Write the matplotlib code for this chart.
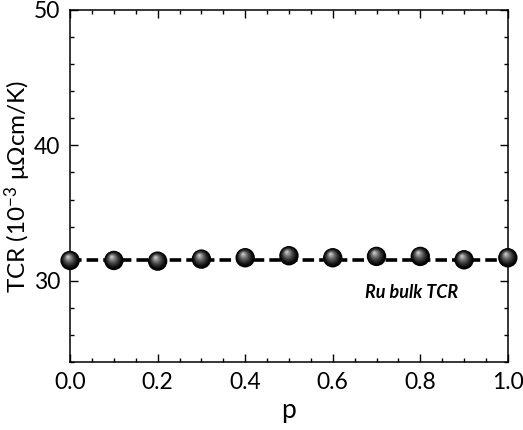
import matplotlib
matplotlib.use("Agg")
import matplotlib.pyplot as plt
from matplotlib.ticker import MultipleLocator, FixedLocator
import matplotlib.transforms as mtransforms
import numpy as np

p_values = [0.0, 0.1, 0.2, 0.3, 0.4, 0.5, 0.6, 0.7, 0.8, 0.9, 1.0]
tcr_values = [31.5, 31.5, 31.45, 31.6, 31.7, 31.85, 31.7, 31.8, 31.8, 31.55, 31.7]
bulk_x = [0.0, 1.0]
bulk_tcr = [31.5, 31.5]
x_ticks = [0.0, 0.2, 0.4, 0.6, 0.8, 1.0]
y_ticks = [30, 40, 50]

plt.rcParams['font.family'] = ['Lato', 'DejaVu Sans']
plt.rcParams['mathtext.fontset'] = 'custom'
plt.rcParams['mathtext.rm'] = 'Lato'
plt.rcParams['mathtext.it'] = 'Lato:italic'
plt.rcParams['mathtext.bf'] = 'Lato:bold'

fig = plt.figure(figsize=(5.23, 4.30), dpi=100)
ax = fig.add_axes([0.134, 0.158, 0.837, 0.819])

ax.plot(bulk_x, bulk_tcr, color='black', lw=2.6, dashes=(3.2, 1.4), zorder=2)

# shaded sphere markers
n_layers = 12
base_s = 195
for i in range(n_layers):
    f = i / (n_layers - 1)
    size = base_s * (1 - 0.9 * f) ** 2
    shade = 0.0 + 0.78 * f ** 1.5
    dx, dy = -1.5 * f, 2.6 * f
    tr = mtransforms.offset_copy(ax.transData, fig=fig, x=dx, y=dy, units='points')
    ax.scatter(p_values, tcr_values, s=size, color=str(shade), edgecolors='none',
               transform=tr, zorder=3 + i, clip_on=False)

ax.set_xlim(0.0, 1.0)
ax.set_ylim(24, 50)
ax.xaxis.set_major_locator(FixedLocator(x_ticks))
ax.xaxis.set_minor_locator(MultipleLocator(0.05))
ax.yaxis.set_major_locator(FixedLocator(y_ticks))
ax.yaxis.set_minor_locator(MultipleLocator(2))
ax.set_xticklabels([f"{v:.1f}" for v in x_ticks])

ax.tick_params(which='both', direction='in', top=True, right=True, labelsize=16.5, width=1.0)
ax.tick_params(which='major', length=6, pad=7)
ax.tick_params(which='minor', length=3)
for s in ax.spines.values():
    s.set_linewidth(1.1)

ax.set_xlabel('p', fontsize=19, labelpad=4)
ax.set_ylabel('TCR (10$^{\\mathrm{-3}}$ μΩcm/K)', fontsize=17.5, labelpad=1)

ax.text(0.78, 0.197, 'Ru bulk TCR', transform=ax.transAxes, fontsize=13,
        fontweight='bold', fontstyle='italic', ha='center', va='center')

fig.savefig('out.png', dpi=100)
